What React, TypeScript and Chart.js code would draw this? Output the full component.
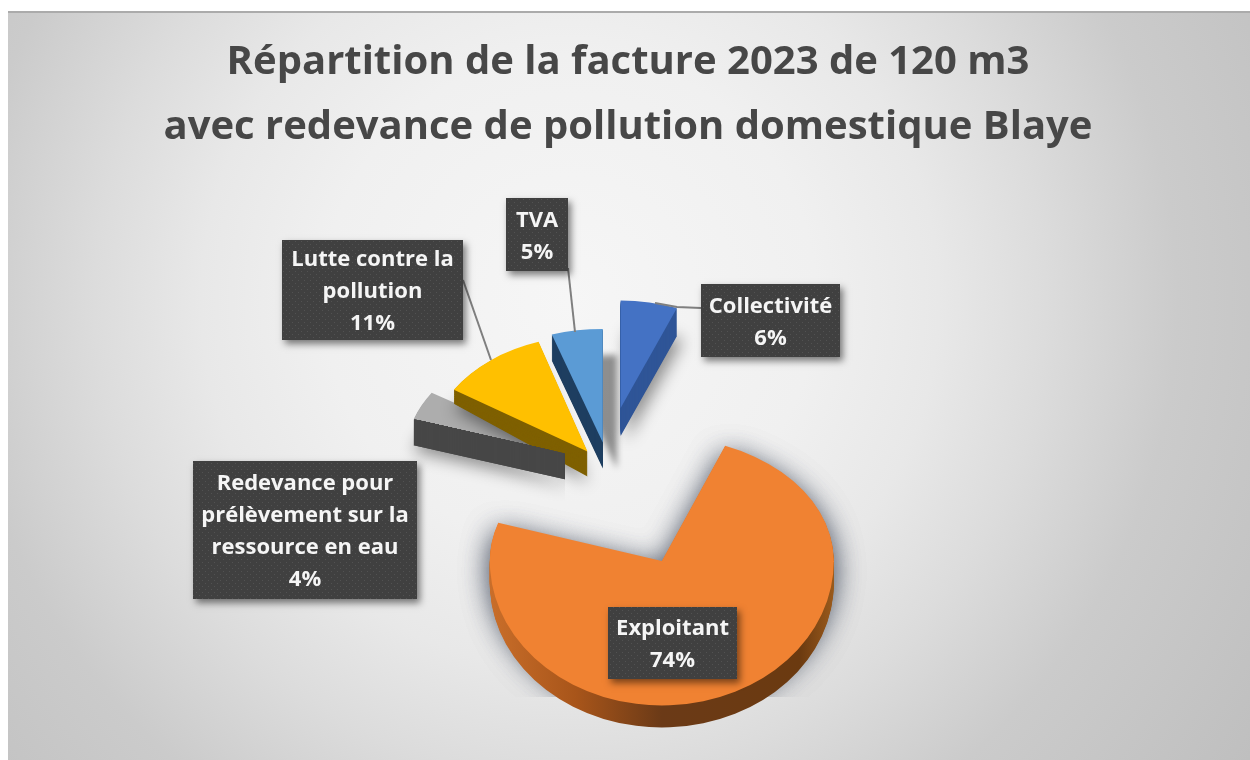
import React, { useEffect, useRef } from "react";
import { Chart, registerables } from "chart.js";

Chart.register(...registerables);

// ---- data ----
const categories = ["Collectivité", "Exploitant", "Redevance pour prélèvement sur la ressource en eau", "Lutte contre la pollution", "TVA"];
const shares = [6, 74, 4, 11, 5];
const labelLines = [
  ["Collectivité"],
  ["Exploitant"],
  ["Redevance pour", "prélèvement sur la", "ressource en eau"],
  ["Lutte contre la", "pollution"],
  ["TVA"],
];
const titleLines = ["Répartition de la facture 2023 de 120 m3", "avec redevance de pollution domestique Blaye"];

// ---- styles ----
const topColors = ["#4472C4", "#F08232", "#ADADAD", "#FFC000", "#5B9BD5"];
const sideColors = ["#2F5597", "#A8551A", "#474747", "#7F6000", "#1F3F60"];
const RADIUS = 172;
const CENTER = { x: 612, y: 470 };
const explode = [94, 117, 42, 40, 46];
const nudge = [[-9, -2], [0, 1], [0, -3], [0, 2], [-2, 2]];
const scaleX = [0.89, 1, 0.98, 0.92, 0.96];
const scaleUp = [0.625, 0.72, 0.68, 0.67, 0.66];
const scaleDown = [0.625, 0.84, 0.68, 0.67, 0.66];
const depth = [28, 22, 26, 25, 26];
const shear = [0, 0, 0, 0.082, 0];
const shadowOffset = [[6, 4], [0, 2], [0, 6], [0, 6], [14, 0]];
const boxes = [
  [701, 284, 139, 73],
  [608, 607, 129, 72],
  [193, 461, 224, 138],
  [282, 240, 181, 100],
  [506, 198, 62, 73],
];
const leaders = [
  [[655, 303], [677, 307], [701, 308]],
  [],
  [],
  [[491, 360], [463, 280]],
  [[575, 332], [568, 268]],
];

const piePlugin = {
  id: "pie3d",
  beforeDraw(chart: any) {
    const { ctx, width, height } = chart;
    ctx.save();
    ctx.fillStyle = "#ffffff";
    ctx.fillRect(0, 0, width, height);
    const g = ctx.createRadialGradient(570, 300, 0, 570, 300, 820);
    g.addColorStop(0, "#F6F6F6");
    g.addColorStop(0.3, "#F0F0F0");
    g.addColorStop(0.45, "#E8E8E8");
    g.addColorStop(0.58, "#DCDCDC");
    g.addColorStop(0.74, "#CBCBCB");
    g.addColorStop(1, "#BFBFBF");
    ctx.fillStyle = g;
    ctx.fillRect(8, 12, width - 8, height - 12);
    ctx.fillStyle = "#ABABAB";
    ctx.fillRect(8, 11, width - 8, 2);
    ctx.restore();
  },
  beforeDatasetDraw(chart: any) {
    const { ctx } = chart;
    const arcs = chart.getDatasetMeta(0).data;

    const apex = (i: number) => {
      const a = arcs[i];
      const t = (a.startAngle + a.endAngle) / 2;
      const s = Math.sin(t);
      return {
        x: CENTER.x + explode[i] * Math.cos(t) + nudge[i][0],
        y: CENTER.y + explode[i] * s * (s < 0 ? 0.65 : 0.85) + nudge[i][1],
      };
    };

    const paintPart = (i: number, k: number, dx: number, dy: number, sh: number, fill: any) => {
      const arc = arcs[i];
      const A = apex(i);
      ctx.save();
      ctx.translate(A.x + dx, A.y + dy);
      if (sh) ctx.transform(1, sh, 0, 1, 0, 0);
      ctx.scale(scaleX[i], k);
      ctx.translate(-arc.x, -arc.y);
      const saved = arc.options;
      arc.options = { ...saved, backgroundColor: fill, borderWidth: 0 };
      arc.draw(ctx);
      arc.options = saved;
      ctx.restore();
    };

    const paint = (i: number, dy: number, sh: number, fill: any, dx = 0, overlap = 1) => {
      if (scaleUp[i] === scaleDown[i]) {
        paintPart(i, scaleUp[i], dx, dy, sh, fill);
        return;
      }
      const seam = Math.round(apex(i).y + dy);
      ctx.save();
      ctx.beginPath();
      ctx.rect(0, 0, chart.width, seam + overlap);
      ctx.clip();
      paintPart(i, scaleUp[i], dx, dy, sh, fill);
      ctx.restore();
      ctx.save();
      ctx.beginPath();
      ctx.rect(0, seam, chart.width, chart.height);
      ctx.clip();
      paintPart(i, scaleDown[i], dx, dy, sh, fill);
      ctx.restore();
    };

    const sideFill = (i: number) => {
      if (i !== 1) return sideColors[i];
      const x = arcs[i].x;
      const g = ctx.createLinearGradient(x - RADIUS, 0, x + RADIUS, 0);
      g.addColorStop(0, "#C96E2A");
      g.addColorStop(0.25, "#A8551A");
      g.addColorStop(0.5, "#6B3A17");
      g.addColorStop(0.9, "#6B3A10");
      g.addColorStop(1, "#9A5A1C");
      return g;
    };

    const slice = (i: number) => {
      // soft cast shadow: the shape itself is painted off-canvas, only its shadow lands here
      const far = 4000;
      ctx.save();
      if (i === 1) {
        ctx.beginPath();
        ctx.rect(0, 0, chart.width, 697);
        ctx.clip();
      }
      ctx.shadowColor = i === 1 ? "rgba(50,60,80,0.6)" : "rgba(0,0,0,0.42)";
      ctx.shadowBlur = i === 4 ? 6 : i === 1 ? 28 : 16;
      ctx.shadowOffsetX = shadowOffset[i][0] + far;
      ctx.shadowOffsetY = shadowOffset[i][1];
      const passes = i === 1 ? 2 : 1;
      for (let p = 0; p < passes; p++) {
        paint(i, i === 1 ? 6 : depth[i], shear[i], "#000000", -far, 0);
      }
      ctx.restore();
      // side wall
      const fill = sideFill(i);
      for (let d = depth[i]; d >= 1; d--) paint(i, d, (shear[i] * d) / depth[i], fill);
      // top face
      paint(i, 0, 0, topColors[i]);
    };

    const g = apex(2);
    ctx.save();
    ctx.beginPath();
    ctx.rect(0, 0, g.x - 9, chart.height);
    ctx.clip();
    slice(2);
    ctx.restore();
    slice(3);
    // front face of the grey slice sits over the yellow wall
    const a2 = arcs[2];
    const R2 = RADIUS * scaleX[2];
    const cx = g.x + R2 * Math.cos(a2.startAngle);
    const cy = g.y + RADIUS * scaleUp[2] * Math.sin(a2.startAngle);
    ctx.save();
    ctx.beginPath();
    ctx.moveTo(cx, cy);
    ctx.lineTo(g.x, g.y);
    ctx.lineTo(g.x, chart.height);
    ctx.lineTo(cx - 10, chart.height);
    ctx.closePath();
    ctx.clip();
    ctx.beginPath();
    ctx.rect(0, 0, g.x - 9, chart.height);
    ctx.clip();
    for (let d = depth[2]; d >= 1; d--) paint(2, d, 0, sideColors[2]);
    ctx.restore();
    slice(4);
    slice(0);
    slice(1);
    return false;
  },
  afterDatasetsDraw(chart: any) {
    const { ctx } = chart;
    const data = chart.data.datasets[0].data;
    const tile = document.createElement("canvas");
    tile.width = 6;
    tile.height = 6;
    const t = tile.getContext("2d") as CanvasRenderingContext2D;
    t.fillStyle = "#404040";
    t.fillRect(0, 0, 6, 6);
    t.fillStyle = "#525252";
    t.fillRect(1, 1, 1, 1);
    t.fillRect(4, 4, 1, 1);
    const pattern = ctx.createPattern(tile, "repeat");

    ctx.save();
    ctx.strokeStyle = "#7F7F7F";
    ctx.lineWidth = 2;
    leaders.forEach((pts) => {
      if (!pts.length) return;
      ctx.beginPath();
      pts.forEach((p, j) => (j ? ctx.lineTo(p[0], p[1]) : ctx.moveTo(p[0], p[1])));
      ctx.stroke();
    });
    boxes.forEach((b, i) => {
      ctx.save();
      ctx.shadowColor = "rgba(0,0,0,0.5)";
      ctx.shadowBlur = 7;
      ctx.shadowOffsetX = 3;
      ctx.shadowOffsetY = 4;
      ctx.fillStyle = "#404040";
      ctx.fillRect(b[0], b[1], b[2], b[3]);
      ctx.restore();
      ctx.fillStyle = pattern;
      ctx.fillRect(b[0], b[1], b[2], b[3]);
      const lines = [...labelLines[i], `${data[i]}%`];
      ctx.fillStyle = "#F5F5F5";
      ctx.font = "bold 22px 'Open Sans'";
      ctx.textAlign = "center";
      ctx.textBaseline = "middle";
      const lh = 32;
      const y0 = b[1] + b[3] / 2 + 2 - ((lines.length - 1) * lh) / 2;
      lines.forEach((l, j) => ctx.fillText(l, b[0] + b[2] / 2, y0 + j * lh));
    });
    ctx.restore();
  },
};

export default function App() {
  const ref = useRef<HTMLCanvasElement | null>(null);
  useEffect(() => {
    document.body.style.margin = "0";
    const chart = new Chart(ref.current as HTMLCanvasElement, {
      type: "pie",
      data: {
        labels: categories,
        datasets: [{ data: shares, backgroundColor: topColors, borderWidth: 0, radius: RADIUS } as any],
      },
      options: {
        responsive: false,
        animation: false,
        layout: { padding: { left: 6 } },
        plugins: {
          legend: { display: false },
          tooltip: { enabled: false },
          title: {
            display: true,
            text: titleLines,
            color: "#474747",
            font: { family: "'Open Sans'", size: 40, weight: "bold", lineHeight: 1.625 },
            padding: { top: 30, bottom: 10 },
          },
        },
      } as any,
      plugins: [piePlugin as any],
    });
    return () => chart.destroy();
  }, []);
  return (
    <div style={{ position: "fixed", left: 0, top: 0, width: 1250, height: 760, overflow: "hidden" }}>
      <canvas ref={ref} width={1250} height={760} style={{ display: "block" }} />
    </div>
  );
}
